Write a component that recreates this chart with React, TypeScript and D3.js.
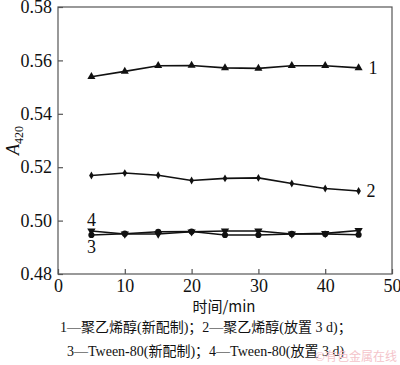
import React, { useEffect, useRef } from 'react';
import * as d3 from 'd3';

// time (min)
const times = [5, 10, 15, 20, 25, 30, 35, 40, 45];
// absorbance A420 for each curve
const pvaFresh = [0.5539, 0.5559, 0.5580, 0.5581, 0.5572, 0.5570, 0.5580, 0.5580, 0.5572];
const pvaAged = [0.5169, 0.5178, 0.5170, 0.5150, 0.5158, 0.5160, 0.5139, 0.5120, 0.5111];
const tweenFresh = [0.4946, 0.4951, 0.4958, 0.4959, 0.4946, 0.4946, 0.4950, 0.4950, 0.4947];
const tweenAged = [0.4961, 0.4950, 0.4950, 0.4958, 0.4961, 0.4961, 0.4950, 0.4952, 0.4963];
const curveLabels = ['1', '2', '3', '4'];
const xTicks = [0, 10, 20, 30, 40, 50];
const yTicks = [0.48, 0.5, 0.52, 0.54, 0.56, 0.58];

function App() {
  const ref = useRef<SVGSVGElement>(null);

  useEffect(() => {
    if (!ref.current) return;
    const svg = d3.select(ref.current);
    svg.selectAll('*').remove();

    const margin = { left: 58, right: 8, top: 7, bottom: 91 };
    const W = 400, H = 365;
    const x = d3.scaleLinear().domain([0, 50]).range([margin.left, W - margin.right]);
    const y = d3.scaleLinear().domain([0.48, 0.58]).range([H - margin.bottom, margin.top]);
    const font = '"Liberation Serif", "Times New Roman", serif';
    const capFont = '"Liberation Serif", "Noto Sans CJK SC", serif';

    // frame
    svg.append('rect')
      .attr('x', x(0)).attr('y', y(0.58))
      .attr('width', x(50) - x(0)).attr('height', y(0.48) - y(0.58))
      .attr('fill', 'none').attr('stroke', '#555').attr('stroke-width', 1.2);

    // axes with inner ticks
    const xAxis = svg.append('g')
      .attr('transform', 'translate(0,' + y(0.48) + ')')
      .call(d3.axisBottom(x).tickValues(xTicks).tickSize(-5).tickPadding(5).tickFormat(d3.format('d')));
    const yAxis = svg.append('g')
      .attr('transform', 'translate(' + x(0) + ',0)')
      .call(d3.axisLeft(y).tickValues(yTicks).tickSize(-5).tickPadding(6).tickFormat(d3.format('.2f')));
    [xAxis, yAxis].forEach(g => {
      g.attr('font-family', null).attr('font-size', null);
      g.select('.domain').remove();
      g.selectAll('line').attr('stroke', '#555').attr('stroke-width', 1.2);
      g.selectAll('text').style('font-family', font).style('font-size', '18px').attr('fill', '#111');
    });

    // y title
    const yt = svg.append('text')
      .attr('transform', 'translate(19,' + y(0.53) + ') rotate(-90)')
      .attr('text-anchor', 'middle')
      .style('font-family', font).attr('font-size', 18).attr('fill', '#111');
    yt.append('tspan').attr('font-style', 'italic').text('A');
    yt.append('tspan').attr('font-size', 12).attr('dy', 4).text('420');

    // x title
    svg.append('text')
      .attr('x', 224).attr('y', 312)
      .attr('text-anchor', 'middle')
      .style('font-family', '"Noto Sans CJK SC", sans-serif')
      .attr('font-size', 15).attr('fill', '#111')
      .text('时间/min');

    const series = [pvaFresh, pvaAged, tweenFresh, tweenAged];
    const line = d3.line<number>().x((d, i) => x(times[i])).y(d => y(d));
    const symbols = [
      d3.symbol().type(d3.symbolTriangle).size(28),
      d3.symbol().type(d3.symbolDiamond).size(18),
      d3.symbol().type(d3.symbolCircle).size(30),
      d3.symbol().type(d3.symbolTriangle).size(30),
    ];

    series.forEach((vals, s) => {
      svg.append('path')
        .datum(vals)
        .attr('d', line)
        .attr('fill', 'none').attr('stroke', '#111').attr('stroke-width', 1.6);
      svg.append('g').selectAll('path')
        .data(vals)
        .join('path')
        .attr('d', symbols[s]())
        .attr('transform', (d, i) => 'translate(' + x(times[i]) + ',' + y(d) + ')' + (s === 3 ? ' rotate(180)' : ''))
        .attr('fill', '#111');
    });

    // curve labels
    const labelPos = [
      { x: x(45) + 10, y: y(pvaFresh[8]) + 6, a: 'start' },
      { x: x(45) + 8, y: y(pvaAged[8]) + 6, a: 'start' },
      { x: x(5), y: y(tweenFresh[0]) + 18, a: 'middle' },
      { x: x(5), y: y(tweenAged[0]) - 5, a: 'middle' },
    ];
    curveLabels.forEach((t, i) => {
      svg.append('text')
        .attr('x', labelPos[i].x).attr('y', labelPos[i].y)
        .attr('text-anchor', labelPos[i].a)
        .style('font-family', font).attr('font-size', 18).attr('fill', '#111')
        .text(t);
    });

    // caption
    const cap = ['1—聚乙烯醇(新配制)；2—聚乙烯醇(放置 3 d)；', '3—Tween-80(新配制)；4—Tween-80(放置 3 d)'];
    svg.append('text')
      .attr('x', 60).attr('y', 332)
      .style('font-family', capFont)
      .attr('font-size', 14).attr('fill', '#111').text(cap[0]);
    svg.append('text')
      .attr('x', 67).attr('y', 356)
      .style('font-family', capFont)
      .attr('font-size', 14).attr('fill', '#111').text(cap[1]);

    // watermark
    svg.append('text')
      .attr('x', 397).attr('y', 361).attr('text-anchor', 'end')
      .style('font-family', '"Noto Sans CJK SC", sans-serif')
      .attr('font-size', 12).attr('fill', '#f4c4ca').text('©有色金属在线');
  });

  return (
    <svg ref={ref} width={400} height={365}
      style={{ position: 'absolute', left: 0, top: 0, background: '#fff' }} />
  );
}

export default App;
